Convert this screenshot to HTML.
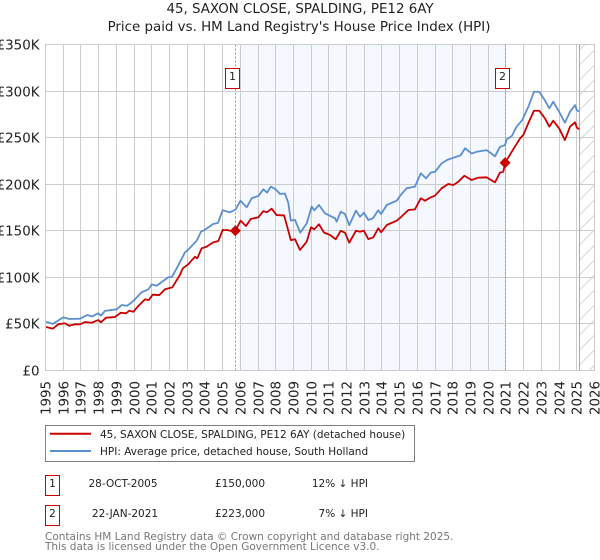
<!DOCTYPE html>
<html lang="en">
<head>
<meta charset="utf-8">
<title>45, SAXON CLOSE, SPALDING, PE12 6AY</title>
<style>
html,body{margin:0;padding:0;background:#fff;width:600px;height:560px;overflow:hidden}
svg{display:block;font-family:"DejaVu Sans","Liberation Sans",sans-serif}
</style>
</head>
<body>
<svg id="chart" width="600" height="560" viewBox="0 0 600 560" xmlns="http://www.w3.org/2000/svg">
  <defs>
    <pattern id="hatch" width="15" height="15" patternUnits="userSpaceOnUse" y="44.5">
      <path d="M-1,16 L16,-1 M-1,1 L1,-1 M14,16 L16,14" stroke="#d8d8d8" stroke-width="1" fill="none"/>
    </pattern>
  </defs>
  <rect width="600" height="560" fill="#fff"/>
  <text x="300" y="13" font-size="13.4" text-anchor="middle" fill="#222">45, SAXON CLOSE, SPALDING, PE12 6AY</text>
  <text x="299" y="31" font-size="13.4" text-anchor="middle" fill="#222">Price paid vs. HM Land Registry's House Price Index (HPI)</text>
  <g id="plot"></g>

  <g>
    <rect x="45.5" y="425.5" width="369" height="36" fill="#fff" stroke="#808080" stroke-width="1"/>
    <line x1="50" x2="91" y1="433.7" y2="433.7" stroke="#cc0000" stroke-width="2"/>
    <text x="100" y="438" font-size="10.5" fill="#222">45, SAXON CLOSE, SPALDING, PE12 6AY (detached house)</text>
    <line x1="50" x2="91" y1="451" y2="451" stroke="#5b8fd1" stroke-width="2"/>
    <text x="100" y="455" font-size="10.5" fill="#222">HPI: Average price, detached house, South Holland</text>
  </g>

  <g font-size="10.5" fill="#222">
    <rect x="45.5" y="475.5" width="14" height="20" fill="#fff" stroke="#cc0000" stroke-width="1"/>
    <text x="52.5" y="487" text-anchor="middle">1</text>
    <text x="123" y="487" text-anchor="middle">28-OCT-2005</text>
    <text x="240" y="487" text-anchor="middle">£150,000</text>
    <text x="368" y="487" text-anchor="end">12% ↓ HPI</text>
  </g>
  <g font-size="10.5" fill="#222">
    <rect x="45.5" y="505.5" width="14" height="20" fill="#fff" stroke="#cc0000" stroke-width="1"/>
    <text x="52.5" y="517" text-anchor="middle">2</text>
    <text x="125" y="517" text-anchor="middle">22-JAN-2021</text>
    <text x="240" y="517" text-anchor="middle">£223,000</text>
    <text x="368" y="517" text-anchor="end">7% ↓ HPI</text>
  </g>

  <text x="45" y="540" font-size="10.5" fill="#777">Contains HM Land Registry data © Crown copyright and database right 2025.</text>
  <text x="45" y="550" font-size="10.5" fill="#777">This data is licensed under the Open Government Licence v3.0.</text>
</svg>
<script>
const yearTicks = [1995,1996,1997,1998,1999,2000,2001,2002,2003,2004,2005,2006,2007,2008,2009,2010,2011,2012,2013,2014,2015,2016,2017,2018,2019,2020,2021,2022,2023,2024,2025,2026];
const priceTicks = [0,50,100,150,200,250,300,350];
const priceTickLabels = ['£0','£50K','£100K','£150K','£200K','£250K','£300K','£350K'];
const hpiYears = [1995.03,1995.41,1996.0,1996.34,1996.95,1997.36,1997.63,1997.98,1998.13,1998.36,1999.02,1999.3,1999.6,1999.83,2000.01,2000.43,2000.8,2001.0,2001.28,2001.92,2002.14,2002.41,2002.88,2003.0,2003.54,2003.78,2003.97,2004.47,2004.74,2005.0,2005.42,2005.74,2006.01,2006.36,2006.64,2007.02,2007.3,2007.51,2007.72,2008.0,2008.24,2008.52,2008.71,2008.85,2009.09,2009.39,2009.75,2010.03,2010.18,2010.44,2010.78,2011.35,2011.44,2011.67,2011.91,2012.15,2012.53,2012.76,2012.98,2013.23,2013.49,2013.79,2013.95,2014.27,2014.83,2015.06,2015.39,2015.86,2016.19,2016.49,2016.75,2017.0,2017.37,2017.67,2017.94,2018.44,2018.69,2019.06,2019.35,2019.91,2020.38,2020.66,2020.95,2021.04,2021.33,2021.6,2021.92,2022.26,2022.58,2022.88,2023.2,2023.45,2023.67,2024.0,2024.33,2024.62,2024.9,2025.0,2025.13];
const hpiValues = [52.4,50,57,55.3,55.6,59.6,58,61.4,58.9,64,65.7,70.3,69.5,72.5,75.7,84,87,92.5,91,100,100.5,109.7,127,128.6,139.4,149,150.8,157.3,158.5,172,169.8,173,182.3,175.2,184.9,187.4,194.5,191,197.4,194.5,189.5,190,180,161,161.6,148,158,176,172,177.7,168.8,163.4,159.8,170.5,168,156,171.6,165,169.4,161.6,163.4,172,168,177.7,182.3,188.4,195.6,197.4,211.7,206.3,212.4,213.4,222.4,226,227.8,231,238.6,233,234.8,236.6,230,240,242,248,251.7,261.8,268.9,283,299.3,299.3,290,281.5,288.6,277.9,266,277.9,285,279.6,278];
const paidYears = [1995.03,1995.41,1995.72,1996.1,1996.34,1996.67,1996.95,1997.23,1997.61,1997.98,1998.13,1998.42,1998.92,1999.25,1999.55,1999.73,1999.96,2000.24,2000.62,2000.84,2001.05,2001.43,2001.75,2001.93,2002.16,2002.59,2002.75,2003.06,2003.44,2003.57,2003.82,2004.1,2004.47,2004.76,2005.0,2005.23,2005.51,2005.72,2006.02,2006.32,2006.59,2007.02,2007.3,2007.49,2007.77,2008.05,2008.47,2008.65,2008.85,2009.09,2009.37,2009.75,2009.99,2010.18,2010.44,2010.73,2011.07,2011.39,2011.67,2011.91,2012.15,2012.53,2012.76,2012.98,2013.23,2013.51,2013.79,2013.95,2014.27,2014.83,2015.06,2015.49,2015.86,2016.19,2016.43,2016.71,2016.99,2017.37,2017.74,2018.03,2018.31,2018.65,2019.06,2019.44,2019.91,2020.38,2020.66,2020.85,2020.95,2021.33,2021.8,2021.98,2022.26,2022.58,2022.88,2023.2,2023.45,2023.67,2024.0,2024.33,2024.62,2024.9,2025.0,2025.13];
const paidValues = [46.7,44.9,49.6,50.7,48,49.6,49.6,52,51.3,54.2,51.7,56.7,57.4,62,61.4,64.2,63.1,69.2,76.4,75.7,81.4,81,87.2,88.2,89.3,102.5,109.7,114,122.2,120.4,131.2,133,137.6,139,150.8,150.8,149.8,150,160.8,155.1,162.6,164.5,171.2,169.8,173.7,166.9,166.5,154.4,140,140.9,129.4,138.3,153.7,151.6,157,148,145.5,140.9,150,148,137.2,150,149,150,141,143,152.7,148.4,156.2,160.8,164.5,172.3,173,184.9,182.3,185.5,187.7,195.6,200.2,199.1,202.7,209.1,204.5,207,207.4,202,212.4,213.4,223,234.9,249.3,252.8,265.4,278.9,278.9,270.7,261.8,268.2,260,247.4,261.8,266.5,261,259];
const saleYears = [2005.72,2020.95];
const saleValues = [150,223];
const saleLabels = ['1','2'];
const shadeStartYear = 2006;
const dataEndYear = 2025.14;

const NS = 'http://www.w3.org/2000/svg';
const plot = document.getElementById('plot');
const LEFT = 45.5, RIGHT = 594.5, TOP = 44.5, BOTTOM = 370.5;
function xScale(year){ return LEFT + (year - 1995) * (RIGHT - LEFT) / 31; }
function yScale(k){ return BOTTOM - k * (BOTTOM - TOP) / 350; }
function snap(v){ return Math.round(v - 0.5) + 0.5; }
function make(tag, attrs){
  const el = document.createElementNS(NS, tag);
  for (const key in attrs) el.setAttribute(key, attrs[key]);
  plot.appendChild(el);
  return el;
}
function pointsFor(xs, ys){
  return xs.map(function(x, i){ return xScale(x).toFixed(2) + ',' + yScale(ys[i]).toFixed(2); }).join(' ');
}

const shade = make('rect', {x: xScale(shadeStartYear), y: TOP, width: xScale(saleYears[1]) - xScale(shadeStartYear), height: BOTTOM - TOP, fill: '#f5f8ff'});



const hatch = make('rect', {x: xScale(dataEndYear), y: TOP, width: RIGHT - xScale(dataEndYear), height: BOTTOM - TOP, fill: 'url(#hatch)'});



yearTicks.forEach(function(year){
  const x = snap(xScale(year));
  const grid = make('line', {x1: x, x2: x, y1: TOP, y2: BOTTOM, stroke: '#cccccc', 'stroke-width': 1});
  
  
  const label = make('text', {transform: 'translate(' + (x + 5) + ',' + 415 + ') rotate(-90)', 'font-size': 13.4, fill: '#222'});
  label.textContent = year;
  
  
});

priceTicks.forEach(function(tick, i){
  const y = snap(yScale(tick));
  const grid = make('line', {x1: LEFT, x2: RIGHT, y1: y, y2: y, stroke: '#cccccc', 'stroke-width': 1});
  
  
  const label = make('text', {x: 39.5, y: y + 5, 'font-size': 13.4, 'text-anchor': 'end', fill: '#222'});
  label.textContent = priceTickLabels[i];
  
  
});

const endLine = make('line', {x1: snap(xScale(dataEndYear)), x2: snap(xScale(dataEndYear)), y1: TOP, y2: BOTTOM, stroke: '#a8a8a8', 'stroke-width': 1});



saleYears.forEach(function(year, i){
  const x = snap(xScale(year));
  const rule = make('line', {x1: x, x2: x, y1: TOP, y2: BOTTOM, stroke: '#e87080', 'stroke-width': 1, 'stroke-dasharray': '2 2'});
  
  
});

const hpiLine = make('polyline', {points: pointsFor(hpiYears, hpiValues), fill: 'none', stroke: '#5b8fd1', 'stroke-width': 1.8, 'stroke-linejoin': 'round'});



const paidLine = make('polyline', {points: pointsFor(paidYears, paidValues), fill: 'none', stroke: '#cc0000', 'stroke-width': 1.8, 'stroke-linejoin': 'round'});



saleYears.forEach(function(year, i){
  const cx = xScale(year), cy = yScale(saleValues[i]), r = 5.5;
  const dot = make('polygon', {points: [cx, cy - r, cx + r, cy, cx, cy + r, cx - r, cy].join(','), fill: '#cc0000'});
  
  
  const x = snap(xScale(year));
  const box = make('rect', {x: x - 10, y: 68.5, width: 14, height: 20, fill: '#fff', stroke: '#cc0000', 'stroke-width': 1});
  
  
  const num = make('text', {x: x - 3, y: 80, 'font-size': 11, 'text-anchor': 'middle', fill: '#222'});
  num.textContent = saleLabels[i];
  
  
});

const frame = make('rect', {x: LEFT, y: TOP, width: RIGHT - LEFT, height: BOTTOM - TOP, fill: 'none', stroke: '#cccccc', 'stroke-width': 1});


</script>
</body>
</html>
